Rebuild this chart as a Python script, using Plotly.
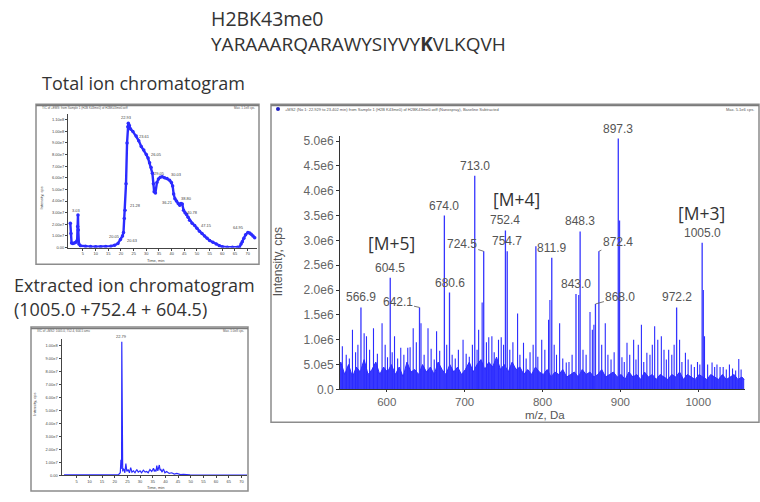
import plotly.graph_objects as go

W, H = 760, 502
def px(x): return x / W
def py(y): return 1 - y / H

# ---------------- text ----------------
peptide_name = "H2BK43me0"
peptide_seq_html = "YARAAARQARAWYSIYVY<b>K</b>VLKQVH"
tic_title = "Total ion chromatogram"
xic_title = "Extracted ion chromatogram"
xic_subtitle = "(1005.0 +752.4 + 604.5)"

# ---------------- Total ion chromatogram (time min, intensity in 1e7 cps) ----------------
tic_time = [0.0, 0.25, 0.5, 1.0, 1.6, 2.2, 2.7, 2.9, 3.03, 3.15, 3.4, 4.0, 6.0, 8.0, 10.0, 12.0, 14.0, 16.0,
            17.5, 18.8, 19.8, 20.6, 21.0, 21.3, 21.6, 22.0, 22.4, 22.7, 22.9, 23.3, 23.8, 24.7, 26.0, 27.0,
            28.0, 29.0, 30.0, 30.7, 31.3, 31.9, 32.4, 32.8, 33.1, 33.6, 34.2, 34.8, 35.5, 36.3, 37.2, 38.2,
            39.2, 39.9, 40.4, 40.8, 41.3, 41.9, 42.6, 43.2, 43.7, 44.2, 44.7, 45.3, 45.9, 46.5, 47.1, 48.1,
            49.1, 50.0, 51.0, 52.0, 53.0, 54.0, 55.0, 56.3, 57.6, 58.8, 60.0, 62.0, 64.0, 66.0, 66.8, 67.4,
            67.9, 68.5, 69.2, 70.1, 70.8, 71.4, 72.1, 72.8]
tic_int_e7 = [2.1, 1.2, 0.4, 0.35, 0.4, 0.45, 0.6, 1.8, 2.8, 1.5, 0.3, 0.15, 0.1, 0.08, 0.07, 0.07, 0.08, 0.12,
              0.2, 0.35, 0.7, 1.0, 1.3, 2.5, 3.2, 5.5, 9.0, 10.4, 10.7, 10.5, 10.2, 10.0, 9.6, 9.2,
              8.7, 8.4, 8.0, 7.7, 7.3, 6.9, 6.4, 5.5, 4.8, 4.7, 5.6, 5.9, 6.05, 6.1, 6.0, 5.95,
              5.8, 5.6, 5.3, 4.6, 4.2, 4.0, 3.8, 3.65, 3.8, 3.75, 3.2, 3.0, 2.85, 2.6, 2.35, 2.1,
              1.9, 1.65, 1.4, 1.2, 1.0, 0.8, 0.6, 0.45, 0.3, 0.15, 0.06, 0.02, 0.02, 0.03, 0.05, 0.3,
              0.5, 0.8, 1.1, 1.3, 1.25, 1.15, 1.0, 0.85]
tic_lbl_time = [2.5, 17.5, 24.6, 25.8, 22.2, 29.3, 34.1, 35.3, 42.0, 38.4, 45.9, 48.3, 53.8, 66.4]
tic_lbl_int_e7 = [3.2, 0.93, 0.6, 3.6, 11.2, 9.6, 8.05, 6.4, 6.3, 3.9, 4.2, 3.05, 1.86, 1.7]
tic_lbl_text = ["3.03", "20.05", "20.63", "21.28", "22.93", "23.61", "26.05", "29.05", "30.03",
                "36.21", "38.80", "40.78", "47.15", "64.95"]
tic_ytick_e7 = [0, 1, 2, 3, 4, 5, 6, 7, 8, 9, 10, 11]
tic_ytick_text = ["0.00", "1.00e7", "2.00e7", "3.00e7", "4.00e7", "5.00e7", "6.00e7", "7.00e7",
                  "8.00e7", "9.00e7", "1.00e8", "1.10e8"]

# ---------------- Extracted ion chromatogram ----------------
xic_time = [0, 5, 10, 15, 20, 21.5, 22.2, 22.45, 22.6, 22.72, 22.79, 22.88, 22.98, 23.15, 23.4, 23.7,
            24.0, 24.4, 24.8, 25.3, 25.8, 26.3, 26.8, 27.4, 28.0, 28.7, 29.3, 30.0, 30.6, 31.3, 32.0,
            32.6, 33.2, 33.9, 34.6, 35.3, 35.6, 35.9, 36.3, 36.6, 37.0, 37.6, 37.9, 38.2, 38.7, 39.2,
            39.8, 40.5, 41.5, 42.5, 43.5, 44.5, 46.0, 47.1, 49.7, 52, 55, 60, 65, 70, 72.2]
xic_int_e7 = [0.03, 0.02, 0.02, 0.02, 0.03, 0.05, 0.2, 1.2, 0.5, 1.3, 10.3, 7.5, 1.2, 0.3, 0.5, 0.45,
              0.2, 0.9, 0.3, 0.45, 0.2, 0.6, 0.25, 0.35, 0.2, 0.45, 0.25, 0.35, 0.2, 0.4, 0.25,
              0.3, 0.2, 0.45, 0.3, 0.55, 0.3, 0.4, 0.3, 0.75, 0.35, 0.8, 0.4, 0.45, 0.25, 0.5,
              0.2, 0.3, 0.15, 0.2, 0.1, 0.15, 0.06, 0.08, 0.04, 0.03, 0.02, 0.02, 0.02, 0.02, 0.02]
xic_lbl_time = [22.79]
xic_lbl_int_e7 = [10.3]
xic_lbl_text = ["22.79"]
xic_ytick_e7 = [0, 1, 2, 3, 4, 5, 6, 7, 8, 9, 10]
xic_ytick_text = ["0.00", "1.00e7", "2.00e7", "3.00e7", "4.00e7", "5.00e7", "6.00e7", "7.00e7",
                  "8.00e7", "9.00e7", "1.00e8"]
time_tick_vals = [5, 10, 15, 20, 25, 30, 35, 40, 45, 50, 55, 60, 65, 70]

# ---------------- Mass spectrum (m/z, intensity in 1e6 cps) ----------------
major_mz = [566.9, 604.5, 642.1, 674.0, 680.6, 713.0, 724.5, 752.4, 754.7, 791.5, 811.9, 843.0,
            848.3, 868.0, 872.4, 897.3, 972.2, 1005.0]
major_int_M = [1.65, 2.25, 1.65, 3.5, 1.95, 4.3, 2.78, 3.2, 2.78, 2.88, 2.65, 1.92,
               3.18, 1.72, 2.78, 5.05, 1.65, 2.95]
minor_mz = [543, 556, 571, 574, 583, 594, 610, 618, 627, 634, 644, 653, 664, 698, 718, 735, 743.5,
            768, 775.6, 799, 807.8, 822, 830.5, 861, 880.6, 908.5, 917, 927, 934, 944, 952.6, 962,
            983.5, 1017.7, 1028, 1052,
            722.5, 809.5, 846.5, 899.0, 1006.5, 976, 1008, 864, 866,
            548, 552, 560, 563, 578, 588, 598, 601, 607, 614, 622, 630, 638, 648, 657, 661, 668, 677,
            684, 688, 692, 702, 706, 710, 716, 728, 731, 738, 747, 750, 758, 762, 771, 779, 784, 788,
            794, 803, 815, 818, 826, 834, 838, 852, 856, 876, 884, 888, 892, 902, 905, 912, 920, 923,
            930, 938, 941, 948, 956, 959, 966, 969, 979, 987, 991, 995, 999, 1002, 1012, 1021, 1024,
            1032, 1036, 1040, 1044, 1048, 1055]
minor_int_M = [0.87, 1.2, 1.13, 1.07, 1.23, 1.33, 1.07, 0.84, 0.84, 1.23, 1.33, 1.23, 1.17, 1.0, 1.2,
               1.07, 1.0, 1.53, 0.94, 1.0, 1.4, 1.33, 0.54, 1.56, 1.33, 0.94, 1.0, 1.3, 0.74, 1.27,
               1.07, 0.8, 0.74, 0.54, 0.45, 0.61,
               1.75, 1.8, 1.9, 3.4, 2.0, 1.0, 1.07, 1.2, 1.3,
               0.7, 0.62, 0.75, 0.9, 0.8, 0.72, 0.9, 0.65, 0.75, 0.62, 0.7, 0.85, 0.95, 0.7, 0.82, 0.6,
               0.78, 0.9, 0.7, 0.62, 0.8, 0.72, 0.66, 0.9, 0.8, 0.95, 1.05, 0.75, 1.05, 0.9, 0.8, 0.95,
               0.7, 0.62, 0.75, 0.9, 0.66, 0.8, 0.9, 0.7, 0.62, 0.55, 0.7, 0.8, 0.7, 0.9, 0.7, 0.6,
               0.75, 0.65, 0.55, 0.7, 0.6, 0.9, 0.55, 0.7, 0.9, 1.0, 0.8, 0.6, 0.7, 0.9, 0.55, 0.6,
               0.5, 0.45, 0.55, 0.5, 0.5, 0.45, 0.5, 0.45, 0.4, 0.5, 0.42, 0.38, 0.4]
base_mz = [540, 541, 546, 551, 556, 561, 566, 571, 576, 581, 586, 591, 596,
           601, 606, 611, 616, 621, 626, 631, 636, 641, 646, 651, 656,
           661, 666, 671, 676, 681, 686, 691, 696, 701, 706, 711, 716,
           721, 726, 731, 736, 741, 746, 751, 756, 761, 766, 771, 776,
           781, 786, 791, 796, 801, 806, 811, 816, 821, 826, 831, 836,
           841, 846, 851, 856, 861, 866, 871, 876, 881, 886, 891, 896,
           901, 906, 911, 916, 921, 926, 931, 936, 941, 946, 951, 956,
           961, 966, 971, 976, 981, 986, 991, 996, 1001, 1006, 1011, 1016,
           1021, 1026, 1031, 1036, 1041, 1046, 1051, 1056, 1059]
base_int_M = [0.4, 0.55, 0.3, 0.5, 0.25, 0.45, 0.35, 0.6, 0.3, 0.4, 0.55, 0.3, 0.45,
              0.35, 0.5, 0.3, 0.45, 0.25, 0.55, 0.35, 0.4, 0.3, 0.5, 0.35, 0.45,
              0.3, 0.55, 0.4, 0.3, 0.5, 0.35, 0.45, 0.3, 0.4, 0.55, 0.35, 0.5,
              0.6, 0.4, 0.55, 0.45, 0.65, 0.4, 0.5, 0.35, 0.55, 0.4, 0.45, 0.3,
              0.4, 0.3, 0.45, 0.35, 0.3, 0.4, 0.25, 0.35, 0.3, 0.4, 0.25, 0.3,
              0.35, 0.25, 0.4, 0.3, 0.35, 0.25, 0.3, 0.4, 0.25, 0.3, 0.35, 0.25,
              0.3, 0.2, 0.35, 0.25, 0.3, 0.2, 0.35, 0.25, 0.3, 0.2, 0.3, 0.25,
              0.2, 0.3, 0.25, 0.35, 0.2, 0.3, 0.25, 0.2, 0.3, 0.25, 0.2, 0.3,
              0.25, 0.2, 0.3, 0.2, 0.25, 0.3, 0.2, 0.25, 0.2]
peak_lbl_mz = [566.9, 604.5, 674.0, 680.6, 713.0, 752.4, 754.7, 811.9, 843.0, 848.3, 897.3, 972.2, 1005.0]
peak_lbl_M = [1.65, 2.25, 3.5, 1.95, 4.3, 3.2, 2.78, 2.65, 1.92, 3.18, 5.05, 1.65, 2.95]
peak_lbl_text = ["566.9", "604.5", "674.0", "680.6", "713.0", "752.4", "754.7", "811.9", "843.0",
                 "848.3", "897.3", "972.2", "1005.0"]
lead_lbl_mz = [642.1, 724.5, 868.0, 872.4]
lead_lbl_M = [1.65, 2.78, 1.72, 2.78]
lead_lbl_text = ["642.1", "724.5", "868.0", "872.4"]
cluster_mz = [605.5, 767.2, 1004.7]
cluster_M = [2.95, 3.84, 3.55]
cluster_text = ["[M+5]", "[M+4]", "[M+3]"]
ms_ytick_M = [0, 0.5, 1.0, 1.5, 2.0, 2.5, 3.0, 3.5, 4.0, 4.5, 5.0]
ms_ytick_text = ["0.0", "5.0e5", "1.0e6", "1.5e6", "2.0e6", "2.5e6", "3.0e6", "3.5e6", "4.0e6", "4.5e6", "5.0e6"]
ms_xtick = [600, 700, 800, 900, 1000]

# style
lead_offsets = {"642.1": (-22, -5), "724.5": (-22, -7), "868.0": (25, -7), "872.4": (19, -9)}
BLUE = "#2b2bff"
GRAY_TXT = "#555555"
LABEL_FONT = "Open Sans"
PLOT_FONT = "Liberation Sans"


def sticks(xs, ys):
    X, Y = [], []
    for x, y in zip(xs, ys):
        X += [x, x, None]
        Y += [0, y, None]
    return X, Y


fig = go.Figure()

# TIC
fig.add_trace(go.Scatter(x=tic_time, y=tic_int_e7, mode="lines+markers", xaxis="x", yaxis="y",
                         line=dict(color=BLUE, width=2.4), marker=dict(color=BLUE, size=3.5),
                         showlegend=False, hoverinfo="skip"))
# XIC
fig.add_trace(go.Scatter(x=xic_time, y=xic_int_e7, mode="lines", xaxis="x2", yaxis="y2",
                         line=dict(color=BLUE, width=1.2), showlegend=False, hoverinfo="skip"))
# MS baseline band
fig.add_trace(go.Scatter(x=base_mz, y=base_int_M, mode="lines", fill="tozeroy", xaxis="x3", yaxis="y3",
                         line=dict(color=BLUE, width=1), fillcolor="rgba(35,35,255,0.9)",
                         showlegend=False, hoverinfo="skip"))
mx, my = sticks(minor_mz, minor_int_M)
fig.add_trace(go.Scatter(x=mx, y=my, mode="lines", xaxis="x3", yaxis="y3",
                         line=dict(color=BLUE, width=1.1), showlegend=False, hoverinfo="skip"))
Mx, My = sticks(major_mz, major_int_M)
fig.add_trace(go.Scatter(x=Mx, y=My, mode="lines", xaxis="x3", yaxis="y3",
                         line=dict(color="#3535ff", width=1.3), showlegend=False, hoverinfo="skip"))

ann = []


def paper_text(text, x, y, font, xanchor="center", yanchor="middle", angle=0):
    ann.append(dict(text=text, x=px(x), y=py(y), xref="paper", yref="paper", xanchor=xanchor,
                    yanchor=yanchor, textangle=angle, showarrow=False, font=font))


head_font = dict(family=LABEL_FONT, size=18, color="#333")
paper_text(peptide_name, 209, 17, dict(family=LABEL_FONT, size=19.5, color="#333"), xanchor="left")
paper_text(peptide_seq_html, 209, 43, dict(family=LABEL_FONT, size=19, color="#333"), xanchor="left")
paper_text(tic_title, 40, 82, head_font, xanchor="left")
paper_text(xic_title, 12, 288, head_font, xanchor="left")
paper_text(xic_subtitle, 12, 313, head_font, xanchor="left")

# TIC / XIC peak labels
for t, v, s in zip(tic_lbl_time, tic_lbl_int_e7, tic_lbl_text):
    ann.append(dict(text=s, x=t, y=v, xref="x", yref="y", showarrow=False,
                    font=dict(family=PLOT_FONT, size=4, color="#444")))
for t, v, s in zip(xic_lbl_time, xic_lbl_int_e7, xic_lbl_text):
    ann.append(dict(text=s, x=t, y=v, xref="x2", yref="y2", showarrow=False, yanchor="bottom", yshift=1,
                    font=dict(family=PLOT_FONT, size=4, color="#444")))

# MS peak labels
for m, v, s in zip(peak_lbl_mz, peak_lbl_M, peak_lbl_text):
    ann.append(dict(text=s, x=m, y=v, xref="x3", yref="y3", showarrow=False, yanchor="bottom", yshift=1,
                    font=dict(family=PLOT_FONT, size=12, color=GRAY_TXT)))
for m, v, s in zip(lead_lbl_mz, lead_lbl_M, lead_lbl_text):
    ax, ay = lead_offsets[s]
    ann.append(dict(text=s, x=m, y=v, xref="x3", yref="y3", showarrow=True, arrowhead=0, arrowwidth=0.8,
                    arrowcolor=GRAY_TXT, ax=ax, ay=ay, standoff=0,
                    font=dict(family=PLOT_FONT, size=12, color=GRAY_TXT)))
for m, v, s in zip(cluster_mz, cluster_M, cluster_text):
    ann.append(dict(text=s, x=m, y=v, xref="x3", yref="y3", showarrow=False,
                    font=dict(family=LABEL_FONT, size=17.5, color="#333")))

# axis titles
paper_text("Intensity, cps", 278, 265, dict(family=PLOT_FONT, size=12, color=GRAY_TXT), angle=-90)
paper_text("m/z, Da", 545, 421, dict(family=PLOT_FONT, size=11.5, color=GRAY_TXT), yanchor="middle")
tiny = dict(family=PLOT_FONT, size=4, color="#444")
paper_text("Intensity, cps", 41, 200, tiny, angle=-90)
paper_text("Time, min", 155, 263, tiny)
paper_text("Intensity, cps", 35, 410, tiny, angle=-90)
paper_text("Time, min", 155, 494.5, tiny)

# header strips text
hdr = dict(family=PLOT_FONT, size=4, color="#555")
hdr3 = dict(family=PLOT_FONT, size=3, color="#555")
paper_text("+MS2 (No 1: 22.929 to 23.402 min) from Sample 1 (H2B K43me0) of H2BK43me0.wiff (Nanospray), Baseline Subtracted",
           283, 109, hdr, xanchor="left")
paper_text("Max. 5.1e6 cps.", 756, 109, hdr, xanchor="right")
paper_text("TIC of +EMS: from Sample 1 (H2B K43me0) of H2BK43me0.wiff", 40, 107.5, hdr3, xanchor="left")
paper_text("Max. 1.1e8 cps.", 257, 107.5, hdr3, xanchor="right")
paper_text("XIC of +MS2: 1005.0, 752.4, 604.5 amu", 35, 334.5, hdr3, xanchor="left")
paper_text("Max. 1.0e8 cps.", 246, 334.5, hdr3, xanchor="right")

shapes = []
for (x0, y0, x1, y1) in [(36, 104, 259, 267), (31, 331, 248, 498), (271, 104, 759, 428)]:
    shapes.append(dict(type="rect", xref="paper", yref="paper", x0=px(x0), x1=px(x1), y0=py(y1), y1=py(y0),
                       line=dict(color="#8c8c8c", width=1.5), fillcolor="rgba(0,0,0,0)", layer="below"))
    shapes.append(dict(type="line", xref="paper", yref="paper", x0=px(x0), x1=px(x1), y0=py(y0 + 1.5),
                       y1=py(y0 + 1.5), line=dict(color="#7a7a7a", width=1.5)))
shapes.append(dict(type="circle", xref="paper", yref="paper", x0=px(276), x1=px(280), y0=py(111), y1=py(107),
                   fillcolor="#2020c0", line=dict(width=0)))

small_ax = dict(showline=True, linecolor="#444", linewidth=1, ticks="outside", ticklen=2, tickwidth=0.8,
                tickcolor="#444", tickfont=dict(family=PLOT_FONT, size=4, color="#444"),
                showgrid=False, zeroline=False)

fig.update_layout(
    width=W, height=H, margin=dict(l=0, r=0, t=0, b=0), autosize=False,
    paper_bgcolor="white", plot_bgcolor="white", showlegend=False,
    xaxis=dict(domain=[px(68), px(257)], range=[-0.91, 73.7], anchor="y", tickvals=time_tick_vals, **small_ax),
    yaxis=dict(domain=[py(250), py(114)], range=[0, 11.5], anchor="x", tickvals=tic_ytick_e7,
               ticktext=tic_ytick_text, **small_ax),
    xaxis2=dict(domain=[px(61.5), px(247)], range=[-1.0, 72.2], anchor="y2", tickvals=time_tick_vals, **small_ax),
    yaxis2=dict(domain=[py(482), py(343)], range=[0, 10.53], anchor="x2", tickvals=xic_ytick_e7,
                ticktext=xic_ytick_text, **small_ax),
    xaxis3=dict(domain=[px(340), px(745)], range=[540, 1060], anchor="y3", tickvals=ms_xtick,
                showline=True, linecolor="#333", linewidth=1, ticks="outside", ticklen=2, tickcolor="#333",
                tickfont=dict(family=PLOT_FONT, size=11.5, color="#666"), showgrid=False, zeroline=False),
    yaxis3=dict(domain=[py(394.5), py(136.5)], range=[0, 5.1], anchor="x3", tickvals=ms_ytick_M,
                ticktext=ms_ytick_text, showline=True, linecolor="#333", linewidth=1, ticks="outside",
                ticklen=3, tickcolor="#333", tickfont=dict(family=PLOT_FONT, size=12, color="#666"),
                showgrid=False, zeroline=False),
    annotations=ann, shapes=shapes,
)

fig.write_html("out.html")
